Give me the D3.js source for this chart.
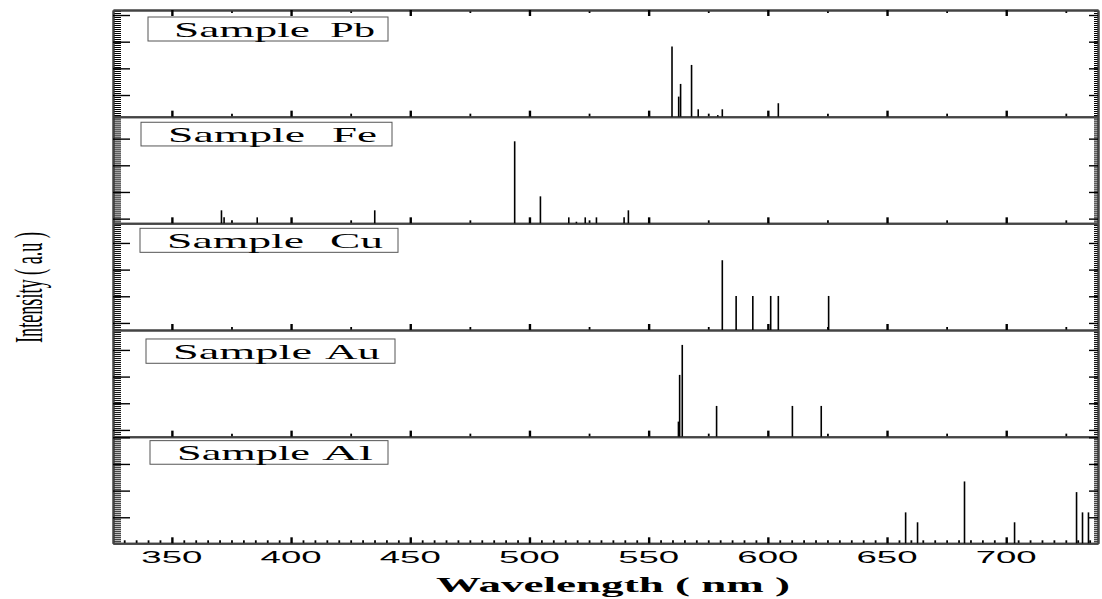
<!DOCTYPE html>
<html>
<head>
<meta charset="utf-8">
<script src="https://cdn.jsdelivr.net/npm/d3@7"></script>
<style>
body { margin: 0; background: #fff; }
svg { display: block; }
</style>
</head>
<body>
<script>
// sample names, top panel first
var samples = ["Pb", "Fe", "Cu", "Au", "Al"];

// emission lines: [wavelength nm, intensity a.u. (0-100 of panel)]
var pbLines = [[559.8, 65.7], [562.6, 18.8], [563.4, 30.7], [568.0, 48.5], [570.8, 6.9],
	[579.0, 1.5], [580.9, 6.9], [604.4, 12.6]];
var feLines = [[370.8, 12.2], [371.9, 5.6], [385.8, 5.6], [435.1, 12.2], [493.8, 76.9],
	[504.6, 25.3], [516.5, 5.6], [519.7, 1.5], [523.4, 5.6], [528.1, 5.6], [539.7, 5.6], [541.5, 12.2]];
var cuLines = [[580.9, 65.4], [586.7, 31.9], [593.7, 31.9], [601.2, 31.9], [604.4, 31.9], [625.5, 31.9]];
var auLines = [[562.5, 14.1], [563.0, 57.9], [564.1, 86.0], [578.5, 28.8], [610.3, 28.8], [622.4, 28.8]];
var alLines = [[657.8, 29], [662.8, 19.7], [682.5, 58], [703.5, 19.7], [729.5, 48], [732.0, 29], [734.5, 29]];
var lineData = [pbLines, feLines, cuLines, auLines, alLines];

// axis ticks
var xTickValues = [350, 400, 450, 500, 550, 600, 650, 700];
var xMinor25 = [375, 425, 475, 525, 575, 625, 675, 725];
var yTickStart = [20.3, 4.4, 6.6, 6.3, 24.4];

//////////////
// layout
//////////////
var width = 1102, height = 599;
var plotTop = 10, plotBottom = 543.3;
var panelH = (plotBottom - plotTop) / samples.length;

// label boxes (absolute x, y relative to panel top)
var boxes = [
	{x: 148, y: 7, w: 240, h: 24, base: 26.7, s: [174, 136], e: [330, 45]},
	{x: 141, y: 5.6, w: 251, h: 23.7, base: 25.7, s: [168, 137], e: [332, 45]},
	{x: 140, y: 5, w: 258, h: 24, base: 25, s: [167, 137], e: [330, 53]},
	{x: 146, y: 9, w: 249, h: 24.3, base: 29, s: [173, 139], e: [325, 55]},
	{x: 150, y: 4, w: 238, h: 23.6, base: 23.4, s: [177, 133], e: [322, 51]}
];

var x = d3.scaleLinear().domain([325.3, 738.5]).range([113, 1098]);
var y = d3.scaleLinear().domain([0, 100]).range([panelH, 0]);

var svg = d3.select("body").append("svg")
	.attr("width", width)
	.attr("height", height);

function styleAxis(g, major) {
	g.select(".domain").attr("stroke", "#444").attr("stroke-width", 2);
	g.selectAll(".tick line").attr("stroke", "#000").attr("stroke-width", major ? 2.4 : 1.8);
	g.selectAll(".tick text").remove();
}

samples.forEach(function(name, i) {
	var top = plotTop + i * panelH;
	var panel = svg.append("g").attr("transform", "translate(0," + top + ")");

	// y ticks: major every 25, minor dense
	var majors = d3.range(yTickStart[i], 100.01, 25);
	var minors = d3.range(yTickStart[i] % 1.875, 100.01, 1.875);

	[[d3.axisLeft, 113, 1], [d3.axisRight, 1098, -1]].forEach(function(a) {
		panel.append("g")
			.attr("transform", "translate(" + a[1] + ",0)")
			.call(a[0](y).tickValues(minors).tickSize(a[2] > 0 ? -8 : -4).tickSizeOuter(0).tickFormat(""))
			.call(function(g) { styleAxis(g, false); g.selectAll(".tick line").attr("stroke-width", 1); });
		panel.append("g")
			.attr("transform", "translate(" + a[1] + ",0)")
			.call(a[0](y).tickValues(majors).tickSize(a[2] > 0 ? -17 : -9).tickSizeOuter(0).tickFormat(""))
			.call(function(g) { styleAxis(g, true); g.selectAll(".tick line").attr("stroke-width", 1.4); });
	});

	// bottom x ticks pointing up
	var bottom = panel.append("g").attr("transform", "translate(0," + panelH + ")");
	if (i < samples.length - 1) {
		bottom.append("g").call(d3.axisBottom(x).tickValues(xMinor25).tickSize(-3).tickSizeOuter(0))
			.call(function(g) { styleAxis(g, false); });
	} else {
		var fine = d3.range(330, 740, 5).filter(function(v) { return v % 50 != 0; });
		bottom.append("g").call(d3.axisBottom(x).tickValues(fine).tickSize(-3).tickSizeOuter(0))
			.call(function(g) { styleAxis(g, false); });
	}
	bottom.append("g").call(d3.axisBottom(x).tickValues(xTickValues).tickSize(-6).tickSizeOuter(0))
		.call(function(g) { styleAxis(g, true); });

	// top border only on first panel
	if (i == 0) {
		panel.append("g").call(d3.axisTop(x).tickValues(xMinor25).tickSize(-3).tickSizeOuter(0))
			.call(function(g) { styleAxis(g, false); });
		panel.append("g").call(d3.axisTop(x).tickValues(xTickValues).tickSize(-6).tickSizeOuter(0))
			.call(function(g) { styleAxis(g, true); });
	}

	// spectral lines
	panel.append("g").selectAll("line")
		.data(lineData[i]).enter()
		.append("line")
		.attr("x1", function(d) { return x(d[0]); })
		.attr("x2", function(d) { return x(d[0]); })
		.attr("y1", y(0))
		.attr("y2", function(d) { return y(d[1]); })
		.attr("stroke", "#000")
		.attr("stroke-width", 1.6);

	// sample label box
	var b = boxes[i];
	panel.append("rect")
		.attr("x", b.x).attr("y", b.y)
		.attr("width", b.w).attr("height", b.h)
		.attr("fill", "#fff")
		.attr("stroke", "#555")
		.attr("stroke-width", 1);
	panel.append("text")
		.attr("x", b.s[0]).attr("y", b.base)
		.attr("textLength", b.s[1]).attr("lengthAdjust", "spacingAndGlyphs")
		.style("font-family", "'Liberation Serif', 'Times New Roman', serif")
		.style("font-size", "22px")
		.text("Sample");
	panel.append("text")
		.attr("x", b.e[0]).attr("y", b.base)
		.attr("textLength", b.e[1]).attr("lengthAdjust", "spacingAndGlyphs")
		.style("font-family", "'Liberation Serif', 'Times New Roman', serif")
		.style("font-size", "22px")
		.text(name);
});

// x tick labels
svg.append("g").selectAll("text")
	.data(xTickValues).enter()
	.append("text")
	.attr("x", function(d) { return x(d); })
	.attr("y", 563.3)
	.attr("text-anchor", "middle")
	.attr("textLength", 61).attr("lengthAdjust", "spacingAndGlyphs")
	.style("font-family", "'Liberation Sans', Arial, sans-serif")
	.style("font-size", "17px")
	.text(function(d) { return d; });

// axis titles
svg.append("text")
	.attr("x", 436).attr("y", 592)
	.attr("textLength", 354).attr("lengthAdjust", "spacingAndGlyphs")
	.style("font-family", "'Liberation Serif', 'Times New Roman', serif")
	.style("font-weight", "bold")
	.style("font-size", "21px")
	.text("Wavelength ( nm )");

svg.append("text")
	.attr("transform", "translate(42,287.5) rotate(-90)")
	.attr("text-anchor", "middle")
	.attr("textLength", 111).attr("lengthAdjust", "spacingAndGlyphs")
	.style("font-family", "'Liberation Serif', 'Times New Roman', serif")
	.style("font-size", "40px")
	.text("Intensity ( a.u )");
</script>
</body>
</html>
